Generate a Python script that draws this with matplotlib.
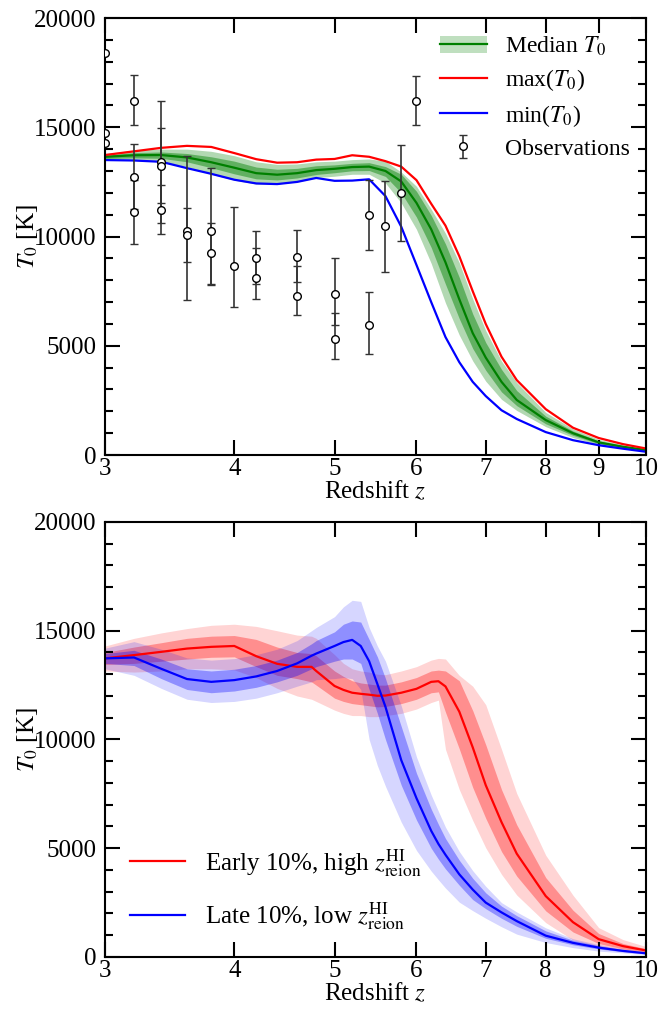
import matplotlib
matplotlib.use("Agg")
import matplotlib.pyplot as plt
from matplotlib.ticker import FixedLocator, NullLocator, FixedFormatter, MultipleLocator
from matplotlib.lines import Line2D
from matplotlib.patches import Patch

plt.rcParams['font.family'] = ['Liberation Serif', 'DejaVu Serif']
plt.rcParams['mathtext.fontset'] = 'stix'
plt.rcParams['font.size'] = 18

# ---------------- top panel: full ensemble ----------------
z_top = [3.0, 3.2, 3.4, 3.6, 3.8, 4.0, 4.2, 4.4, 4.6, 4.8, 5.0, 5.2, 5.4, 5.6,
         5.8, 6.0, 6.2, 6.4, 6.6, 6.8, 7.0, 7.25, 7.5, 8.0, 8.5, 9.0, 9.5, 10.0]
t0_median = [13650, 13720, 13730, 13620, 13400, 13150, 12900, 12830, 12900, 13040,
             13100, 13180, 13200, 13000, 12520, 11540, 10330, 8820, 7130, 5580,
             4460, 3350, 2520, 1600, 1000, 580, 380, 230]
t0_max = [13730, 13900, 14060, 14150, 14100, 13820, 13540, 13380, 13400, 13520,
          13550, 13720, 13650, 13450, 13200, 12580, 11500, 10500, 9100, 7500,
          6000, 4500, 3430, 2100, 1250, 780, 500, 300]
t0_min = [13500, 13480, 13420, 13130, 12870, 12600, 12430, 12400, 12500, 12680,
          12550, 12560, 12620, 11850, 10450, 8700, 7000, 5400, 4250, 3350,
          2700, 2050, 1650, 1050, 680, 450, 290, 150]
# 68% band
t0_p16 = [13570, 13600, 13580, 13420, 13150, 12870, 12640, 12590, 12680, 12840,
          12920, 13010, 13020, 12750, 12000, 10890, 9500, 7820, 6240, 4880,
          3880, 2890, 2260, 1430, 900, 520, 340, 205]
t0_p84 = [13720, 13840, 13870, 13800, 13650, 13450, 13180, 13080, 13120, 13240,
          13280, 13350, 13380, 13200, 12850, 12070, 10970, 9660, 8130, 6460,
          5150, 3920, 2950, 1780, 1100, 650, 420, 255]
# 95% band
t0_p2 = [13480, 13480, 13420, 13200, 12850, 12580, 12400, 12400, 12500, 12700,
         12760, 12850, 12850, 12450, 11540, 10330, 8770, 6960, 5490, 4310,
         3380, 2550, 2040, 1300, 800, 480, 310, 185]
t0_p98 = [13800, 13950, 14000, 14000, 13900, 13700, 13420, 13300, 13320, 13420,
          13450, 13520, 13550, 13450, 12950, 12300, 11250, 10150, 8800, 7150,
          5700, 4300, 3320, 1950, 1200, 720, 460, 280]

# measurements: redshift, T0, lower and upper error
obs_z = [3.0, 3.0, 3.0, 3.2, 3.2, 3.2, 3.4, 3.4, 3.4, 3.6, 3.6, 3.8, 3.8, 4.0,
         4.2, 4.2, 4.6, 4.6, 5.0, 5.0, 5.4, 5.4, 5.6, 5.8, 6.0]
obs_t = [18400, 14750, 14260, 16220, 12740, 11130, 13420, 13240, 11210, 10250,
         10070, 10270, 9230, 8650, 9030, 8120, 9080, 7290, 7350, 5320, 10980,
         5960, 10480, 11980, 16200]
obs_lo = [0, 0, 0, 1130, 1480, 1470, 2800, 1710, 1100, 3150, 1250, 2490, 1400,
          1880, 1220, 980, 1180, 880, 1390, 910, 1600, 1320, 2100, 2200, 1100]
obs_hi = [0, 0, 0, 1160, 1480, 1470, 2800, 1710, 1150, 3430, 1250, 2880, 1400,
          2700, 1220, 1340, 1200, 1350, 1680, 1180, 1610, 1510, 2070, 2190, 1160]

# ---------------- bottom panel: early / late subsets ----------------
z_bot = [3.0, 3.2, 3.4, 3.6, 3.8, 4.0, 4.2, 4.4, 4.6, 4.75, 4.8, 5.0, 5.1, 5.2,
         5.3, 5.4, 5.5, 5.6, 5.8, 6.0, 6.2, 6.3, 6.4, 6.6, 6.8, 7.0, 7.25, 7.5,
         8.0, 8.5, 9.0, 9.5, 10.0]
early_med = [13730, 13880, 14030, 14180, 14260, 14300, 13830, 13480, 13340, 13340,
             13150, 12460, 12280, 12150, 12100, 12060, 12010, 12020, 12150, 12330,
             12650, 12680, 12440, 11280, 9640, 7900, 6200, 4750, 2800, 1600, 820,
             500, 300]
early_d_lo = [13450, 13500, 13600, 13700, 13780, 13800, 13350, 12950, 12800, 12650,
              12500, 11900, 11750, 11650, 11600, 11550, 11500, 11520, 11650, 11850,
              12150, 12190, 11260, 9570, 7800, 6380, 4850, 3720, 2120, 1150, 620,
              370, 230]
early_d_hi = [14000, 14250, 14450, 14650, 14750, 14780, 14600, 14250, 14000, 13950,
              13850, 13150, 12900, 12700, 12600, 12550, 12500, 12500, 12650, 12850,
              13150, 13190, 13150, 12700, 11330, 9760, 7700, 6080, 3650, 2150, 1080,
              620, 380]
early_l_lo = [13150, 13100, 13150, 13250, 13250, 13200, 12850, 12350, 12000, 11850,
              11750, 11350, 11200, 11100, 11100, 11050, 11050, 11100, 11200, 11400,
              11700, 11810, 9550, 7700, 6280, 5020, 3800, 2850, 1580, 780, 460,
              280, 180]
early_l_hi = [14300, 14650, 14900, 15100, 15250, 15300, 15200, 15000, 14800, 14750,
              14650, 13900, 13500, 13250, 13150, 13100, 13000, 12980, 13150, 13350,
              13650, 13730, 13700, 12950, 12450, 11600, 9550, 7520, 4680, 2840, 1350,
              800, 480]

late_med = [13730, 13770, 13250, 12780, 12650, 12730, 12900, 13150, 13500, 13850,
            13950, 14300, 14480, 14580, 14300, 13600, 12550, 11500, 9050, 7300,
            5800, 5200, 4700, 3800, 3100, 2500, 2050, 1650, 980, 650, 430, 280, 170]
late_d_lo = [13500, 13400, 12800, 12300, 12150, 12230, 12400, 12650, 12950, 13250,
             13350, 13600, 13700, 13700, 13500, 12300, 11200, 10000, 7900, 6300,
             5000, 4500, 4050, 3300, 2640, 2220, 1780, 1410, 860, 560, 370, 240, 140]
late_d_hi = [13950, 14100, 13700, 13250, 13150, 13230, 13400, 13650, 14000, 14400,
             14550, 14950, 15300, 15450, 15400, 14600, 13800, 12800, 10600, 8450,
             6800, 6100, 5450, 4450, 3620, 2950, 2340, 1900, 1200, 770, 520, 330, 200]
late_l_lo = [13250, 12950, 12350, 11850, 11700, 11750, 11900, 12150, 12450, 12650,
             12750, 12800, 12850, 12800, 12300, 10000, 8800, 7850, 6200, 4900,
             3950, 3550, 3170, 2520, 2130, 1780, 1390, 1050, 665, 430, 270, 190, 110]
late_l_hi = [14200, 14500, 14150, 13750, 13650, 13720, 13900, 14150, 14550, 15000,
             15150, 15650, 16100, 16400, 16350, 15150, 14300, 13600, 11550, 9200,
             7450, 6700, 5970, 4850, 3970, 3250, 2500, 2070, 1340, 840, 570, 370, 225]

xticks = [3, 4, 5, 6, 7, 8, 9, 10]
xticklabels = ['3', '4', '5', '6', '7', '8', '9', '10']

GREEN = '#008000'
RED = '#ff0000'
BLUE = '#0000ff'

fig = plt.figure(figsize=(6.61, 10.13), dpi=100)
ax1 = fig.add_axes([0.1589, 0.5508, 0.8184, 0.4314])
ax2 = fig.add_axes([0.1589, 0.0553, 0.8184, 0.4294])


def style_axis(ax):
    ax.set_xscale('log')
    ax.set_xlim(3, 10)
    ax.set_ylim(0, 20000)
    ax.xaxis.set_major_locator(FixedLocator(xticks))
    ax.xaxis.set_major_formatter(FixedFormatter(xticklabels))
    ax.xaxis.set_minor_locator(NullLocator())
    ax.yaxis.set_major_locator(MultipleLocator(5000))
    ax.yaxis.set_minor_locator(MultipleLocator(1000))
    ax.tick_params(which='both', direction='in', top=True, right=True, width=1.5)
    ax.tick_params(which='major', length=10.5, labelsize=18, pad=6)
    ax.tick_params(which='minor', length=5.5)
    ax.tick_params(axis='x', which='major', pad=2)
    for s in ax.spines.values():
        s.set_linewidth(1.5)
    ax.set_xlabel('Redshift $z$', fontsize=18, labelpad=0)
    ax.set_ylabel('$T_0$ [K]', fontsize=18, labelpad=-4)


# top panel
style_axis(ax1)
ax1.fill_between(z_top, t0_p2, t0_p98, color=GREEN, alpha=0.3, lw=0)
ax1.fill_between(z_top, t0_p16, t0_p84, color=GREEN, alpha=0.45, lw=0)
ax1.plot(z_top, t0_median, color=GREEN, lw=1.6)
ax1.plot(z_top, t0_max, color=RED, lw=1.6)
ax1.plot(z_top, t0_min, color=BLUE, lw=1.6)
eb = ax1.errorbar(obs_z, obs_t, yerr=[obs_lo, obs_hi], fmt='o', ms=5.5,
                  mfc='white', mec='black', mew=1.0, ecolor='0.2',
                  elinewidth=1.2, capsize=3, capthick=1.2, zorder=5)

h_med = (Patch(facecolor=GREEN, alpha=0.25, lw=0), Line2D([], [], color=GREEN, lw=1.6))
h_max = Line2D([], [], color=RED, lw=1.6)
h_min = Line2D([], [], color=BLUE, lw=1.6)
ax1.legend([h_med, h_max, h_min, eb],
           ['Median $T_0$', 'max($T_0$)', 'min($T_0$)', 'Observations'],
           loc='upper right', frameon=False, fontsize=17, handlelength=2.0,
           handletextpad=0.75, labelspacing=0.4, borderaxespad=0.3)

# bottom panel
style_axis(ax2)
ax2.fill_between(z_bot, early_l_lo, early_l_hi, color=RED, alpha=0.17, lw=0)
ax2.fill_between(z_bot, early_d_lo, early_d_hi, color=RED, alpha=0.33, lw=0)
ax2.fill_between(z_bot, late_l_lo, late_l_hi, color=BLUE, alpha=0.16, lw=0)
ax2.fill_between(z_bot, late_d_lo, late_d_hi, color=BLUE, alpha=0.33, lw=0)
ax2.plot(z_bot, early_med, color=RED, lw=1.6,
         label=r'Early 10%, high $z_{\rm reion}^{\rm HI}$')
ax2.plot(z_bot, late_med, color=BLUE, lw=1.6,
         label=r'Late 10%, low $z_{\rm reion}^{\rm HI}$')
ax2.legend(loc='lower left', frameon=False, fontsize=18, handlelength=2.2,
           handletextpad=0.8, labelspacing=0.85, borderaxespad=0.6)

fig.savefig('out.png', dpi=100)
